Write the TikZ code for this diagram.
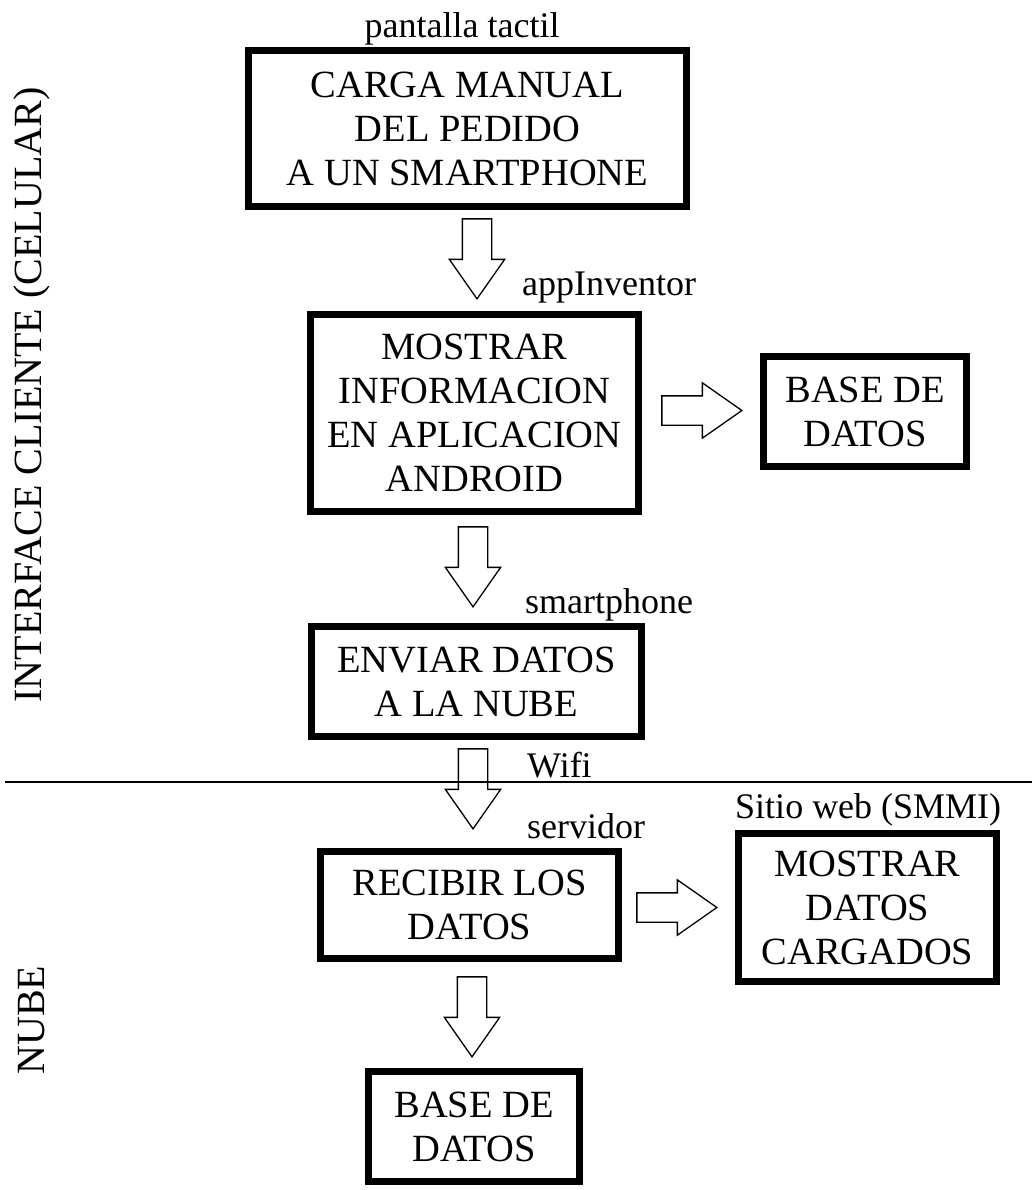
\documentclass[tikz,border=0pt]{standalone}
\usepackage{fontspec}
\setmainfont{Liberation Serif}
\usetikzlibrary{shapes.arrows, calc, positioning}
\tikzstyle{caja} = [draw, line width=7pt, align=center, inner sep=0pt, font=\fontsize{38.5}{44}\selectfont]
\tikzstyle{flecha} = [draw, fill=white, single arrow, line width=1.3pt, inner sep=14pt,
                      minimum height=80pt, minimum width=54pt, anchor=tip,
                      single arrow head extend=13pt, single arrow tip angle=70]
\tikzstyle{etiqueta} = [font=\fontsize{36}{38}\selectfont, inner sep=0pt]
\tikzstyle{seccion} = [font=\fontsize{40}{44}\selectfont, inner sep=0pt, rotate=90]

\begin{document}
\begin{tikzpicture}[x=1pt, y=-1pt]

\useasboundingbox (0,0) rectangle (1032,1190);

% cajas del flujo
\node[caja, minimum width=438pt, minimum height=156pt] (carga) at (467.5,128.5)
    {CARGA MANUAL\\DEL PEDIDO\\A UN SMARTPHONE};
\node[caja, minimum width=328pt, minimum height=197pt] (mostrar) at (474.5,413)
    {MOSTRAR\\INFORMACION\\EN APLICACION\\ANDROID};
\node[caja, minimum width=203pt, minimum height=110pt] (base1) at (865,411.5)
    {BASE DE\\DATOS};
\node[caja, minimum width=330pt, minimum height=110pt] (enviar) at (476.5,681.5)
    {ENVIAR DATOS\\A LA NUBE};
\node[caja, minimum width=298pt, minimum height=107pt] (recibir) at (469.5,905)
    {RECIBIR LOS\\DATOS};
\node[caja, minimum width=258pt, minimum height=148pt] (cargados) at (867.5,907.5)
    {MOSTRAR\\DATOS\\CARGADOS};
\node[caja, minimum width=211pt, minimum height=110pt] (base2) at (474,1126.5)
    {BASE DE\\DATOS};

% flechas
\node[flecha, shape border rotate=270] (f1) at ($(mostrar.north)+(2.5,-11)$) {};
\node[flecha, shape border rotate=270] (f2) at ($(enviar.north)+(-3.5,-15)$) {};
\node[flecha, shape border rotate=270] (f3) at ($(recibir.north)+(3.5,-18)$) {};
\node[flecha, shape border rotate=270] (f4) at ($(base2.north)+(-2,-10)$) {};
\node[flecha] (f5) at ($(base1.west)+(-17,-1)$) {};
\node[flecha] (f6) at ($(cargados.west)+(-17,0)$) {};

% etiquetas
\node[etiqueta, anchor=base] (tactil) at (462,38) {pantalla tactil};
\node[etiqueta, anchor=base west] (inventor) at (522,295) {appInventor};
\node[etiqueta, anchor=base west] (phone) at (525,613) {smartphone};
\node[etiqueta, anchor=base west] (wifi) at (527,777) {Wifi};
\node[etiqueta, anchor=base west] (servidor) at (527,838) {servidor};
\node[etiqueta, anchor=base west] (sitio) at (735,818) {Sitio web (SMMI)};

% secciones
\coordinate (corteA) at (5,782);
\coordinate (corteB) at (1032,782);
\draw[line width=1.5pt] (corteA) -- (corteB);
\node[seccion] (cliente) at (32,395) {INTERFACE CLIENTE (CELULAR)};
\node[seccion] (nube) at (32,1020) {NUBE};

\end{tikzpicture}
\end{document}
